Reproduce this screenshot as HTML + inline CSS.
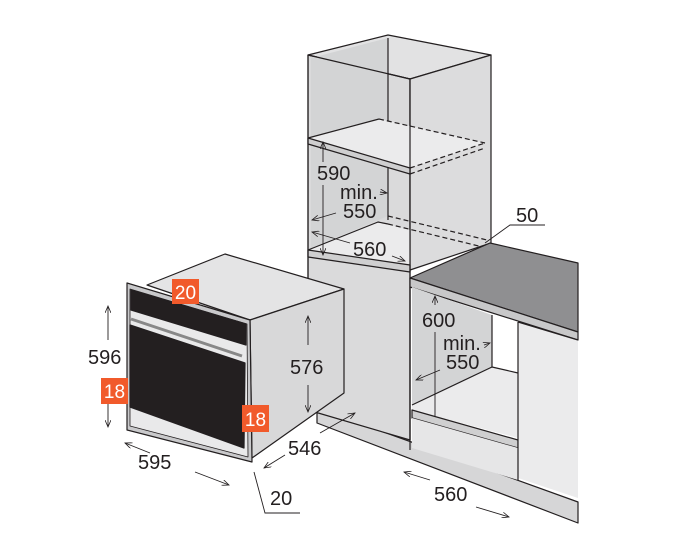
<!DOCTYPE html>
<html><head><style>
html,body{margin:0;padding:0;background:#fff;}
svg{display:block;}
text{font-family:"Liberation Sans",sans-serif;fill:#231f20;}
</style></head><body>
<svg width="682" height="557" viewBox="0 0 682 557" xmlns="http://www.w3.org/2000/svg">
<defs>
<marker id="a" markerWidth="8" markerHeight="6" refX="7" refY="3" orient="auto" markerUnits="userSpaceOnUse"><path d="M0,0 L7,3 L0,6" fill="none" stroke="#231f20" stroke-width="0.8"/></marker>
</defs>
<g stroke="#231f20" stroke-width="1.2" stroke-linejoin="round">
<!-- plinth band -->
<polygon points="317,408 578,502 578,523 317,423" fill="#d6d6d7"/>
<!-- tall cabinet -->
<polygon points="308,55 388,35 491,55 410,79" fill="#e2e2e3"/>
<polygon points="308,55 410,79 410,440 308,410" fill="#dadadb"/>
<polygon points="410,79 491,55 491,243 410,270" fill="#dcdcdd"/>
<polygon points="311,58 388,38 388,216 311,248" fill="#d3d4d5" stroke="none"/>
<line x1="388" y1="38" x2="388" y2="220"/>
<polygon points="308,138 379,119 485,143 410,168" fill="#ebebec" stroke="none"/>
<polyline points="308,138 379,119" fill="none"/>
<line x1="379" y1="119" x2="485" y2="143" stroke-dasharray="5,3"/>
<polygon points="308,138 410,168 410,174 308,144" fill="#cfcfd0"/>
<line x1="410" y1="168" x2="485" y2="143" stroke-dasharray="5,3"/>
<line x1="410" y1="174" x2="485" y2="148" stroke-dasharray="5,3"/>
<polygon points="308,250 378,222 410,230 410,265" fill="#ebebec" stroke="none"/>
<polyline points="308,250 378,222 388,224" fill="none"/>
<line x1="388" y1="216" x2="487" y2="240" stroke-dasharray="5,3"/>
<line x1="388" y1="224" x2="487" y2="248" stroke-dasharray="5,3"/>
<polygon points="308,250 410,265 410,272 308,257" fill="#cfcfd0"/>
<line x1="308" y1="55" x2="308" y2="410"/>
<line x1="410" y1="79" x2="410" y2="440"/>
<line x1="308" y1="55" x2="410" y2="79"/>
<!-- countertop -->
<polygon points="410,278 490,243 578,263 578,332" fill="#8f8f91"/>
<polygon points="410,278 578,332 578,340 410,287" fill="#c8c8c9"/>
<!-- lower niche -->
<polygon points="412,287 492,315 492,367 412,405" fill="#d3d4d5" stroke="none"/>
<line x1="492" y1="315" x2="492" y2="367"/>
<polygon points="412,405 492,367 518,373 518,438 412,410" fill="#ebebec" stroke="none"/>
<line x1="412" y1="405" x2="492" y2="367"/>
<line x1="492" y1="367" x2="518" y2="373"/>
<polygon points="412,410 518,440 518,448 412,418" fill="#cfcfd0"/>
<polygon points="412,418 518,448 518,480 412,448" fill="#e6e6e7" stroke="none"/>
<polygon points="518,322 578,340 578,498 518,478" fill="#ebebec" stroke="none"/>
<line x1="518" y1="322" x2="518" y2="480"/>
<line x1="518" y1="322" x2="578" y2="340"/>
<line x1="410" y1="287" x2="410" y2="450"/>
<!-- oven -->
<polygon points="147,285 225,254 344,289 250,320" fill="#e4e4e5"/>
<polygon points="250,320 344,289 344,393 252,458" fill="#d8d8d9"/>
<polygon points="127,283 250,320 252,462 127,430" fill="#c9c9cb"/>
<polygon points="130,289 247,324 248,457 130,426" fill="#e9e9ea" stroke-width="0.8"/>
<polygon points="131,290 246,324 246,345 131,310" fill="#231f20"/>
<polygon points="130,325 245,363 244,448 130,407" fill="#231f20"/>
<line x1="131" y1="319" x2="242" y2="356" stroke="#888" stroke-width="3"/>
</g>
<rect x="172" y="279" width="27" height="25" fill="#f15a2b"/>
<text x="185.5" y="299" font-size="19" text-anchor="middle" style="fill:#fff">20</text>
<rect x="101" y="378" width="27" height="26" fill="#f15a2b"/>
<text x="114.5" y="398" font-size="19" text-anchor="middle" style="fill:#fff">18</text>
<rect x="242" y="405" width="27" height="27" fill="#f15a2b"/>
<text x="255.5" y="426" font-size="19" text-anchor="middle" style="fill:#fff">18</text>
<g stroke="#231f20" stroke-width="0.9" fill="none">
<line x1="108" y1="340" x2="108" y2="306" marker-end="url(#a)"/>
<line x1="108" y1="404" x2="108" y2="427" marker-end="url(#a)"/>
<line x1="150" y1="453" x2="125" y2="443" marker-end="url(#a)"/>
<line x1="195" y1="472" x2="229" y2="485" marker-end="url(#a)"/>
<line x1="308" y1="345" x2="308" y2="316" marker-end="url(#a)"/>
<line x1="308" y1="385" x2="308" y2="412" marker-end="url(#a)"/>
<line x1="320" y1="433" x2="355" y2="413" marker-end="url(#a)"/>
<line x1="285" y1="455" x2="264" y2="468" marker-end="url(#a)"/>
<polyline points="254,472 265,513 300,513"/>
<line x1="323" y1="162" x2="323" y2="142" marker-end="url(#a)"/>
<line x1="323" y1="185" x2="323" y2="255" marker-end="url(#a)"/>
<line x1="380" y1="192" x2="387" y2="193" marker-end="url(#a)"/>
<line x1="336" y1="213" x2="312" y2="220" marker-end="url(#a)"/>
<line x1="350" y1="243" x2="312" y2="232" marker-end="url(#a)"/>
<line x1="392" y1="256" x2="405" y2="261" marker-end="url(#a)"/>
<polyline points="485,243 510,225 545,225"/>
<line x1="435" y1="305" x2="435" y2="296" marker-end="url(#a)"/>
<line x1="435" y1="332" x2="435" y2="417"/>
<line x1="484" y1="345" x2="490" y2="343" marker-end="url(#a)"/>
<line x1="440" y1="370" x2="416" y2="380" marker-end="url(#a)"/>
<line x1="430" y1="480" x2="404" y2="472" marker-end="url(#a)"/>
<line x1="476" y1="507" x2="509" y2="517" marker-end="url(#a)"/>
</g>
<g font-size="20">
<text x="88" y="364">596</text>
<text x="138" y="469">595</text>
<text x="290" y="374">576</text>
<text x="288" y="455">546</text>
<text x="270" y="505">20</text>
<text x="317" y="180">590</text>
<text x="340" y="199">min.</text>
<text x="343" y="218">550</text>
<text x="353" y="256">560</text>
<text x="422" y="327">600</text>
<text x="443" y="350">min.</text>
<text x="446" y="369">550</text>
<text x="434" y="501">560</text>
<text x="516" y="222">50</text>
</g>
</svg>
</body></html>
